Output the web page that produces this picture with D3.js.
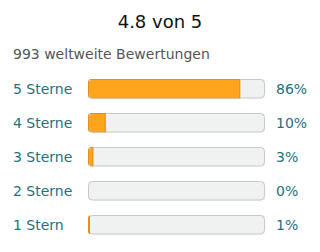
<!DOCTYPE html>
<html>
<head>
<meta charset="utf-8">
<script src="https://cdn.jsdelivr.net/npm/d3@7"></script>
<style>
  body { margin: 0; background: #fff; }
  text { font-family: "DejaVu Sans", sans-serif; }
</style>
</head>
<body>
<script>
// chart data
const title = '4.8 von 5';
const subtitle = '993 weltweite Bewertungen';
const labels = ['5 Sterne', '4 Sterne', '3 Sterne', '2 Sterne', '1 Stern'];
const percents = [86, 10, 3, 0, 1];

const width = 320;
const height = 252;

const svg = d3.select('body')
  .append('svg')
  .attr('width', width)
  .attr('height', height);

svg.append('text')
  .attr('x', 160)
  .attr('y', 28)
  .attr('text-anchor', 'middle')
  .attr('font-size', 18)
  .attr('fill', '#111')
  .text(title);

svg.append('text')
  .attr('x', 13)
  .attr('y', 59)
  .attr('font-size', 14)
  .attr('fill', '#555')
  .text(subtitle);

const x = d3.scaleLinear().domain([0, 100]).range([88, 265]);
const y = d3.scaleBand().domain(labels).range([79, 234.5]).paddingInner(0.426).paddingOuter(0);

const rows = svg.append('g').selectAll('g')
  .data(labels.map((l, i) => ({ label: l, value: percents[i], i: i })))
  .enter()
  .append('g');

rows.append('clipPath')
  .attr('id', d => 'c' + d.i)
  .append('rect')
  .attr('x', x(0))
  .attr('y', d => y(d.label))
  .attr('width', x(100) - x(0))
  .attr('height', y.bandwidth())
  .attr('rx', 4);

rows.append('rect')
  .attr('x', x(0))
  .attr('y', d => y(d.label))
  .attr('width', x(100) - x(0))
  .attr('height', y.bandwidth())
  .attr('rx', 4)
  .attr('fill', '#f0f1f1');

rows.append('rect')
  .attr('clip-path', d => `url(#c${d.i})`)
  .attr('x', x(0))
  .attr('y', d => y(d.label))
  .attr('width', d => x(d.value) - x(0))
  .attr('height', y.bandwidth())
  .attr('fill', '#ffa41c');

rows.append('rect')
  .attr('x', x(0) + 0.5)
  .attr('y', d => y(d.label) + 0.5)
  .attr('width', x(100) - x(0) - 1)
  .attr('height', y.bandwidth() - 1)
  .attr('rx', 4)
  .attr('fill', 'none')
  .attr('stroke', '#c8c8c8')
  .attr('stroke-width', 1);

// orange outline over the filled part
rows.filter(d => d.value > 0).append('rect')
  .attr('clip-path', d => `url(#c${d.i})`)
  .attr('x', x(0) + 0.5)
  .attr('y', d => y(d.label) + 0.5)
  .attr('width', d => Math.max(x(d.value) - x(0) - 1, 1))
  .attr('height', y.bandwidth() - 1)
  .attr('fill', 'none')
  .attr('stroke', '#e3901a')
  .attr('stroke-width', 1);

rows.append('text')
  .attr('x', 13)
  .attr('y', d => y(d.label) + y.bandwidth() / 2)
  .attr('dy', '0.35em')
  .attr('font-size', 14)
  .attr('fill', '#1f7080')
  .text(d => d.label);

rows.append('text')
  .attr('x', 276)
  .attr('y', d => y(d.label) + y.bandwidth() / 2)
  .attr('dy', '0.35em')
  .attr('font-size', 14)
  .attr('fill', '#1f7080')
  .text(d => d.value + '%');
</script>
</body>
</html>
